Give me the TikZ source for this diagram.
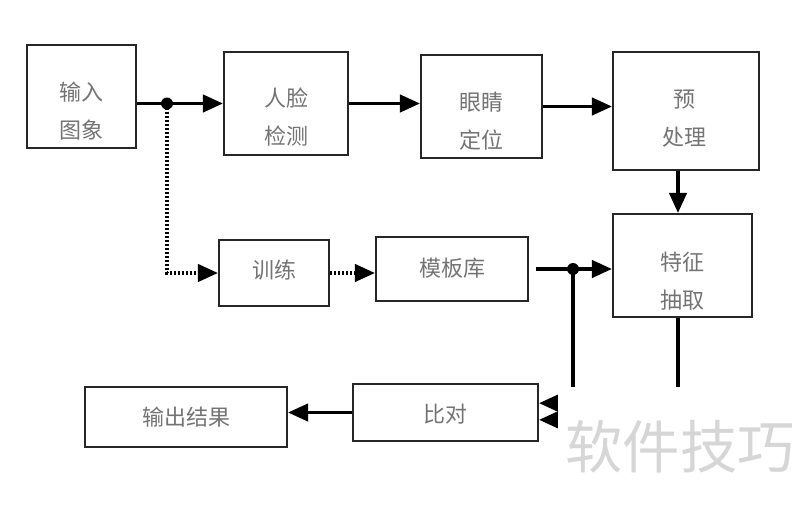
\documentclass[tikz,border=0pt]{standalone}
\usepackage{fontspec}
\newfontfamily\cjk{Noto Sans CJK SC}
\usetikzlibrary{arrows.meta}
\begin{document}
\begin{tikzpicture}[x=0.75pt,y=-0.75pt,
  box/.style={draw=black!85,line width=1.6pt,inner sep=0pt},
  lbl/.style={font=\cjk\fontsize{16.5pt}{28.5pt}\selectfont,text=black!55,align=center,inner sep=0pt},
  conn/.style={line width=2.4pt,-{Triangle[length=15pt,width=13pt]}},
  dots/.style={line width=2.4pt,dash pattern=on 1.6pt off 1.4pt,-{Triangle[length=15pt,width=13pt]}},
  junction/.style={circle,fill=black,inner sep=0pt,minimum size=9pt}]
\useasboundingbox (0,0) rectangle (800,507);
% boxes
\node[box,minimum width=81.75pt,minimum height=77.25pt] (in) at (81.5,96.5) {};
\node[lbl] (inT) at (81.5,111.5) {输入\\图象};
\node[box,minimum width=93pt,minimum height=77.25pt] (face) at (286,103.5) {};
\node[lbl] (faceT) at (286,117) {人脸\\检测};
\node[box,minimum width=90.75pt,minimum height=77.25pt] (eye) at (481.5,106.5) {};
\node[lbl] (eyeT) at (481.5,121) {眼睛\\定位};
\node[box,minimum width=109.5pt,minimum height=88.5pt] (pre) at (686,111) {};
\node[lbl] (preT) at (684,118.5) {预\\处理};
\node[box,minimum width=104.25pt,minimum height=77.25pt] (feat) at (682.5,265.5) {};
\node[lbl] (featT) at (682.5,281) {特征\\抽取};
\node[box,minimum width=82.5pt,minimum height=49.5pt] (train) at (274,273) {};
\node[lbl] (trainT) at (274,270) {训练};
\node[box,minimum width=114pt,minimum height=48pt] (tmpl) at (452,269) {};
\node[lbl] (tmplT) at (452,268) {模板库};
\node[box,minimum width=138.75pt,minimum height=42.75pt] (cmp) at (445.5,412.5) {};
\node[lbl] (cmpT) at (445.5,414) {比对};
\node[box,minimum width=151.5pt,minimum height=45pt] (out) at (186,417) {};
\node[lbl] (outT) at (186,417) {输出结果};
% connectors
\coordinate (j1) at (167,103.5);
\coordinate (j2) at (573,269);
\draw[conn] (in.east |- face.west) -- (face.west);
\draw[dots] (j1) |- (train.west);
\draw[conn] (face.east) -- (face.east -| eye.west);
\draw[conn] (eye.east) -- (eye.east -| pre.west);
\draw[conn] ([xshift=-6pt]pre.south) -- ([xshift=-6pt]pre.south |- feat.north);
\draw[dots] (train.east) -- (train.east -| tmpl.west);
\draw[conn] ([xshift=5pt]tmpl.east) -- (tmpl.east -| feat.west);
\draw[conn] (j2) |- ([yshift=7pt]cmp.east);
\draw[conn] ([xshift=-3.4pt]feat.south) |- ([yshift=-5.5pt]cmp.east);
\draw[conn] (cmp.west) -- (cmp.west -| out.east);
\node[junction] (j1dot) at (j1) {};
\node[junction] (j2dot) at (j2) {};
% watermark
\fill[white] (558,387) rectangle (800,507);
\node[font=\cjk\fontsize{43pt}{43pt}\selectfont,text=black!16,inner sep=0pt] (wm) at (680,447) {软件技巧};
\end{tikzpicture}
\end{document}
